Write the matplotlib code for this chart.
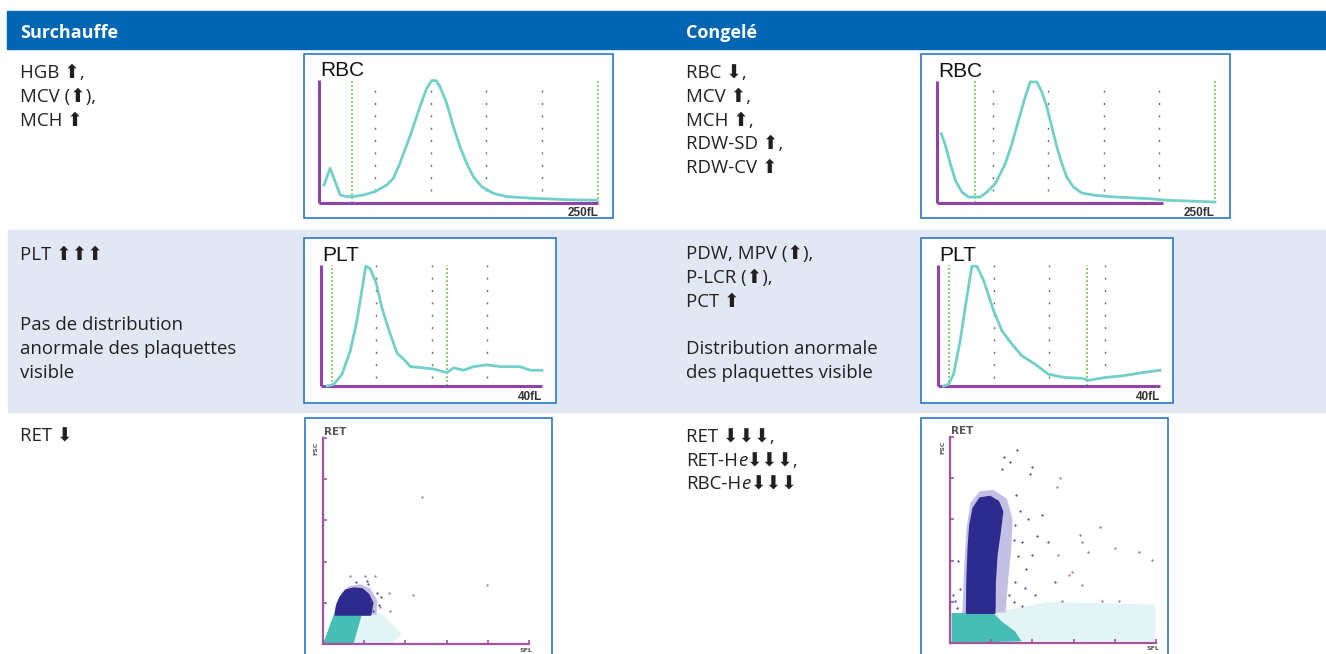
import matplotlib
matplotlib.use('Agg')
import matplotlib.pyplot as plt
from matplotlib.patches import Rectangle, Polygon

# Figure size in pixels
W = 1326
H = 654

# Header and row labels
headers = ['Surchauffe', 'Congelé']
UP = '\u2b06'
DOWN = '\u2b07'

left_rbc_text = ['HGB ' + UP + ',', 'MCV (' + UP + '),', 'MCH ' + UP]
right_rbc_text = ['RBC ' + DOWN + ',', 'MCV ' + UP + ',', 'MCH ' + UP + ',', 'RDW-SD ' + UP + ',', 'RDW-CV ' + UP]
left_plt_text = ['PLT ' + UP + UP + UP, '', '', 'Pas de distribution', 'anormale des plaquettes', 'visible']
right_plt_text = ['PDW, MPV (' + UP + '),', 'P-LCR (' + UP + '),', 'PCT ' + UP, '', 'Distribution anormale', 'des plaquettes visible']
left_ret_text = ['RET ' + DOWN]

# RBC histograms (fL vs relative count)
rbc_fl_left = [4.5, 9.9, 14.3, 19, 24.8, 30.8, 39.7, 50.2, 60.6, 66.6, 72.6, 81.5, 90.5, 96.5, 101,
               104.9, 108.4, 114.4, 120.4, 126.3, 132.3, 138.3, 145.7, 156.2, 168, 192, 222, 248.8]
rbc_count_left = [14.6, 28.2, 17.9, 6.5, 5.2, 5.2, 6.5, 9.2, 14.6, 20, 32.5, 54.2, 78.4, 93.3, 99.5,
                  99.5, 94.6, 81.1, 62.1, 45.8, 32.3, 21.4, 13.3, 7.9, 5.2, 3.8, 2.7, 2.2]
rbc_fl_right = [3.9, 7.5, 12, 16.5, 22.4, 28.4, 38.9, 44.9, 52.4, 56.9, 61.4, 67.4, 73.3, 79.3, 83.8,
                89.8, 94.3, 98.8, 103.3, 107.8, 112.3, 116.7, 122.7, 130.2, 142.2, 160, 190, 208, 250]
rbc_count_right = [56.8, 47.3, 32.2, 18.6, 9, 4.9, 4.9, 9, 15.8, 24, 32.2, 48.6, 67.8, 86.9, 99.2,
                   99.2, 91, 78.7, 62.3, 45.9, 32.2, 21.3, 13.1, 8.2, 6.3, 4.9, 3.6, 2.2, 0.8]

# PLT histograms
plt_fl_left = [1.1, 2.3, 3.8, 5.3, 6.5, 7.4, 8.1, 8.9, 10, 11, 12.3, 13.3, 13.8, 15, 16.2, 18.6, 20.4,
               22.8, 24, 25.8, 27.6, 30, 32.5, 36, 37.9, 40]
plt_count_left = [0, 1.4, 9.7, 29, 54, 79, 99, 97, 85, 65, 46, 33, 27, 22, 16, 15, 14,
                  11, 15, 13, 16, 17.5, 16, 16, 13, 13]
plt_fl_right = [1, 1.9, 2.8, 4, 5.2, 6.1, 7, 8.2, 10, 11.5, 13.3, 15.1, 17.5, 19.9, 22.9, 25.9,
                27.1, 30.1, 33.1, 36.7, 40]
plt_count_right = [0, 1.4, 9.7, 37.5, 73.6, 99, 99, 87.5, 62.5, 45.8, 34.7, 25, 18, 9.7, 7, 6.4,
                   4.7, 7, 8.3, 11, 13]

# grid and discriminator lines
rbc_grid = [50, 100, 150, 200]
plt_grid = [10, 20, 30]
rbc_disc_left = [30, 250]
rbc_disc_right = [34, 250]
plt_disc_left = [2, 22.8]
plt_disc_right = [1.9, 26.9]

# RET scattergrams (SFL, FSC), outlines of the dense clouds + stray events
ret_navy_left = [(0.30, 0.71), (0.34, 0.93), (0.42, 1.13), (0.55, 1.30), (0.75, 1.35), (0.95, 1.33),
                 (1.10, 1.20), (1.20, 1.00), (1.15, 0.71)]
ret_navy_halo_left = [(0.27, 0.71), (0.32, 1.00), (0.45, 1.22), (0.62, 1.40), (0.90, 1.45),
                      (1.15, 1.35), (1.32, 1.05), (1.30, 0.71)]
ret_cyan_left = [(0.0, 0.0), (0.26, 0.71), (0.94, 0.71), (0.74, 0.0)]
ret_cyan_halo_left = [(0.74, 0.0), (0.94, 0.71), (1.40, 0.75), (1.90, 0.25), (1.70, 0.0)]
ret_navy_pts_left = [(1.10, 1.45), (1.15, 1.05), (1.22, 0.80), (1.30, 1.25), (1.06, 1.52),
                     (1.36, 0.95), (1.40, 1.15), (0.80, 1.50)]
ret_pink_pts_left = [(0.66, 1.64), (1.02, 1.66), (1.27, 1.64), (1.59, 1.24), (2.19, 1.20),
                     (2.40, 3.56), (3.99, 1.44), (1.63, 0.81), (1.39, 0.91)]

ret_navy_right = [(0.41, 0.73), (0.42, 1.49), (0.45, 2.30), (0.49, 2.86), (0.57, 3.27), (0.73, 3.51),
                  (0.97, 3.55), (1.17, 3.43), (1.27, 3.19), (1.21, 2.70), (1.13, 2.14), (1.09, 1.49),
                  (1.08, 0.73)]
ret_navy_halo_right = [(0.30, 0.72), (0.34, 1.80), (0.40, 2.80), (0.50, 3.40), (0.72, 3.68),
                       (1.05, 3.72), (1.38, 3.50), (1.52, 3.00), (1.48, 2.20), (1.40, 1.40),
                       (1.35, 0.74)]
ret_cyan_right = [(0.04, 0.0), (0.04, 0.73), (1.05, 0.73), (1.26, 0.52), (1.58, 0.28), (1.74, 0.04)]
ret_cyan_halo_right = [(1.05, 0.73), (2.39, 1.0), (4.98, 0.93), (4.98, 0.04), (1.74, 0.04)]
ret_navy_pts_right = [(1.30, 4.52), (1.62, 4.68), (1.99, 4.27), (1.94, 4.11), (1.27, 4.23), (1.46, 4.40),
                      (1.58, 2.86), (1.74, 2.46), (1.99, 2.14), (2.23, 3.10), (2.39, 2.46),
                      (1.58, 1.49), (1.82, 1.33), (1.42, 1.17), (2.07, 1.17), (0.12, 1.01),
                      (0.08, 1.17), (0.16, 0.85), (2.55, 1.49), (1.60, 3.60), (1.70, 3.20),
                      (1.65, 2.10), (1.85, 1.80), (1.55, 1.00), (1.75, 0.90), (2.10, 2.60),
                      (1.90, 3.00), (0.25, 1.30), (0.20, 2.00), (1.55, 2.50)]
ret_pink_pts_right = [(2.67, 4.01), (2.59, 3.79), (2.63, 2.14), (3.16, 2.62), (3.20, 2.46), (3.65, 2.82),
                      (3.36, 2.22), (4.01, 2.30), (2.96, 1.73), (2.88, 1.65), (3.20, 1.41), (3.69, 1.01),
                      (4.09, 1.01), (4.58, 2.22), (4.90, 2.02), (2.71, 1.01)]

# colours
BLUE = '#0066b3'
BAND = '#e1e8f4'
FRAME = '#2a78c8'
PURPLE = '#8e44a8'
CURVE = '#72cfc9'
TXT = '#231f20'
BODY = ['Open Sans', 'DejaVu Sans']
FS = 13.4

fig = plt.figure(figsize=(W / 100, H / 100), dpi=100)
bg = fig.add_axes([0, 0, 1, 1])
bg.set_xlim(0, W)
bg.set_ylim(H, 0)
bg.axis('off')


def px_axes(x0, y0, x1, y1):
    ax = fig.add_axes([x0 / W, 1 - y1 / H, (x1 - x0) / W, (y1 - y0) / H])
    ax.patch.set_visible(False)
    return ax


def frame(x0, y0, x1, y1):
    bg.add_patch(Rectangle((x0, y0), x1 - x0, y1 - y0, facecolor='white', edgecolor=FRAME, lw=1.2))


def lines(x, y0, rows, step=23.6):
    for i, s in enumerate(rows):
        if s:
            bg.text(x, y0 + i * step, s, fontsize=FS, color=TXT, family=BODY, va='baseline')


# table backgrounds
bg.add_patch(Rectangle((7, 11), W - 7, 38, color=BLUE))
bg.add_patch(Rectangle((8, 230), W - 8, 182, color=BAND))
bg.text(20, 38.5, headers[0], color='white', fontsize=13, weight='bold', family=BODY, va='baseline')
bg.text(686, 38.5, headers[1], color='white', fontsize=13, weight='bold', family=BODY, va='baseline')

# left hand descriptions
lines(20, 78.5, left_rbc_text)
lines(686, 78.5, right_rbc_text)
lines(20, 259.5, left_plt_text)
lines(686, 259.5, right_plt_text)
lines(20, 442, left_ret_text)

# RET-He lines with italic e
t = bg.text(686, 442, 'RET ' + DOWN * 3 + ',', fontsize=FS, color=TXT, family=BODY, va='baseline')
for i, name in enumerate(['RET-H', 'RBC-H']):
    end = DOWN * 3 + (',' if i == 0 else '')
    a = bg.text(686, 465.6 + i * 23.6, name, fontsize=FS, color=TXT, family=BODY, va='baseline')
    b = bg.annotate('e', xy=(1, 0), xycoords=a, va='bottom', fontsize=FS, color=TXT,
                    family=BODY, style='italic')
    bg.annotate(end, xy=(1, 0), xycoords=b, va='bottom', fontsize=FS, color=TXT, family=BODY)


def draw_hist(box, area, xmax, fl, counts, disc, grid, title, unit, axis_end, grid_low):
    frame(*box)
    ax = px_axes(*area)
    ax.set_xlim(0, xmax)
    ax.set_ylim(0, 100)
    ax.axis('off')
    for g in grid:
        ax.plot([g, g], [grid_low, 100], color='#666666', lw=1, ls=(0, (1.4, 7.5)))
    for d in disc:
        ax.plot([d, d], [0, 100], color='#77c95a', lw=1.2, ls=(0, (1.2, 1.2)), clip_on=False)
    ax.plot([0, 0], [0, 100], color=PURPLE, lw=2.2, solid_capstyle='butt', clip_on=False)
    ax.plot([0, axis_end], [0, 0], color=PURPLE, lw=2.2, solid_capstyle='butt', clip_on=False)
    ax.plot(fl, counts, color=CURVE, lw=2, clip_on=False)
    x0, y0, x1, y1 = area
    bg.text(x0 + 1.5, y0 - 4, title, fontsize=15, family='Liberation Sans', color='#111111', va='baseline')
    bg.text(x1, y1 + 13.5, unit, fontsize=8.5, family='Liberation Sans', weight='bold',
            color='#333333', ha='right', va='baseline')


draw_hist((304, 54, 613, 218), (319, 80, 598, 203), 250, rbc_fl_left, rbc_count_left,
          rbc_disc_left, rbc_grid, 'RBC', '250fL', 250, 10)
draw_hist((921, 54, 1230, 218), (937, 81, 1215, 203), 250, rbc_fl_right, rbc_count_right,
          rbc_disc_right, rbc_grid, 'RBC', '250fL', 203, 10)
draw_hist((304, 238, 556, 403), (321, 265, 542, 386), 40, plt_fl_left, plt_count_left,
          plt_disc_left, plt_grid, 'PLT', '40fL', 40, 7)
draw_hist((921, 238, 1173, 403), (938, 265, 1160, 386), 40, plt_fl_right, plt_count_right,
          plt_disc_right, plt_grid, 'PLT', '40fL', 40, 7)


def draw_ret(box, area, navy, navy_halo, cyan, cyan_halo, navy_pts, pink_pts):
    frame(*box)
    ax = px_axes(*area)
    ax.set_xlim(0, 5)
    ax.set_ylim(0, 5)
    for s in ['top', 'right']:
        ax.spines[s].set_visible(False)
    for s in ['left', 'bottom']:
        ax.spines[s].set_color('#a0569e')
        ax.spines[s].set_linewidth(1.6)
    ax.set_xticks(range(6))
    ax.set_yticks(range(6))
    ax.tick_params(direction='in', length=3, width=1.2, color='#a0569e', labelbottom=False, labelleft=False)
    ax.add_patch(Polygon(cyan_halo, closed=True, facecolor='#e2f4f3', edgecolor='none'))
    ax.add_patch(Polygon(navy_halo, closed=True, facecolor='#c4c0e3', edgecolor='none'))
    ax.add_patch(Polygon(cyan, closed=True, facecolor='#46bdb5', edgecolor='none'))
    ax.add_patch(Polygon(navy, closed=True, facecolor='#2e2b8f', edgecolor='#2e2b8f', lw=1.5,
                         joinstyle='round'))
    ax.scatter([p[0] for p in navy_pts], [p[1] for p in navy_pts], s=2.5, color='#4a44a0', lw=0)
    ax.scatter([p[0] for p in pink_pts], [p[1] for p in pink_pts], s=3, color='#b57f92', lw=0)
    x0, y0, x1, y1 = area
    bg.text(x0 + 1, y0 - 3, 'RET', fontsize=7.5, weight='bold', color='#555555', va='baseline')
    bg.text(x0 - 7, y0 + 10, 'FSC', fontsize=4.5, weight='bold', color='#555555', rotation=90,
            ha='center', va='center')
    bg.text(x1 - 3, y1 + 6, 'SFL', fontsize=4.5, weight='bold', color='#555555', ha='center', va='center')


draw_ret((305, 418, 552, 670), (323, 438, 529, 644), ret_navy_left, ret_navy_halo_left,
         ret_cyan_left, ret_cyan_halo_left, ret_navy_pts_left, ret_pink_pts_left)
draw_ret((921, 418, 1168, 670), (950, 437, 1156, 643), ret_navy_right, ret_navy_halo_right,
         ret_cyan_right, ret_cyan_halo_right, ret_navy_pts_right, ret_pink_pts_right)

fig.savefig('out.png', dpi=100)
